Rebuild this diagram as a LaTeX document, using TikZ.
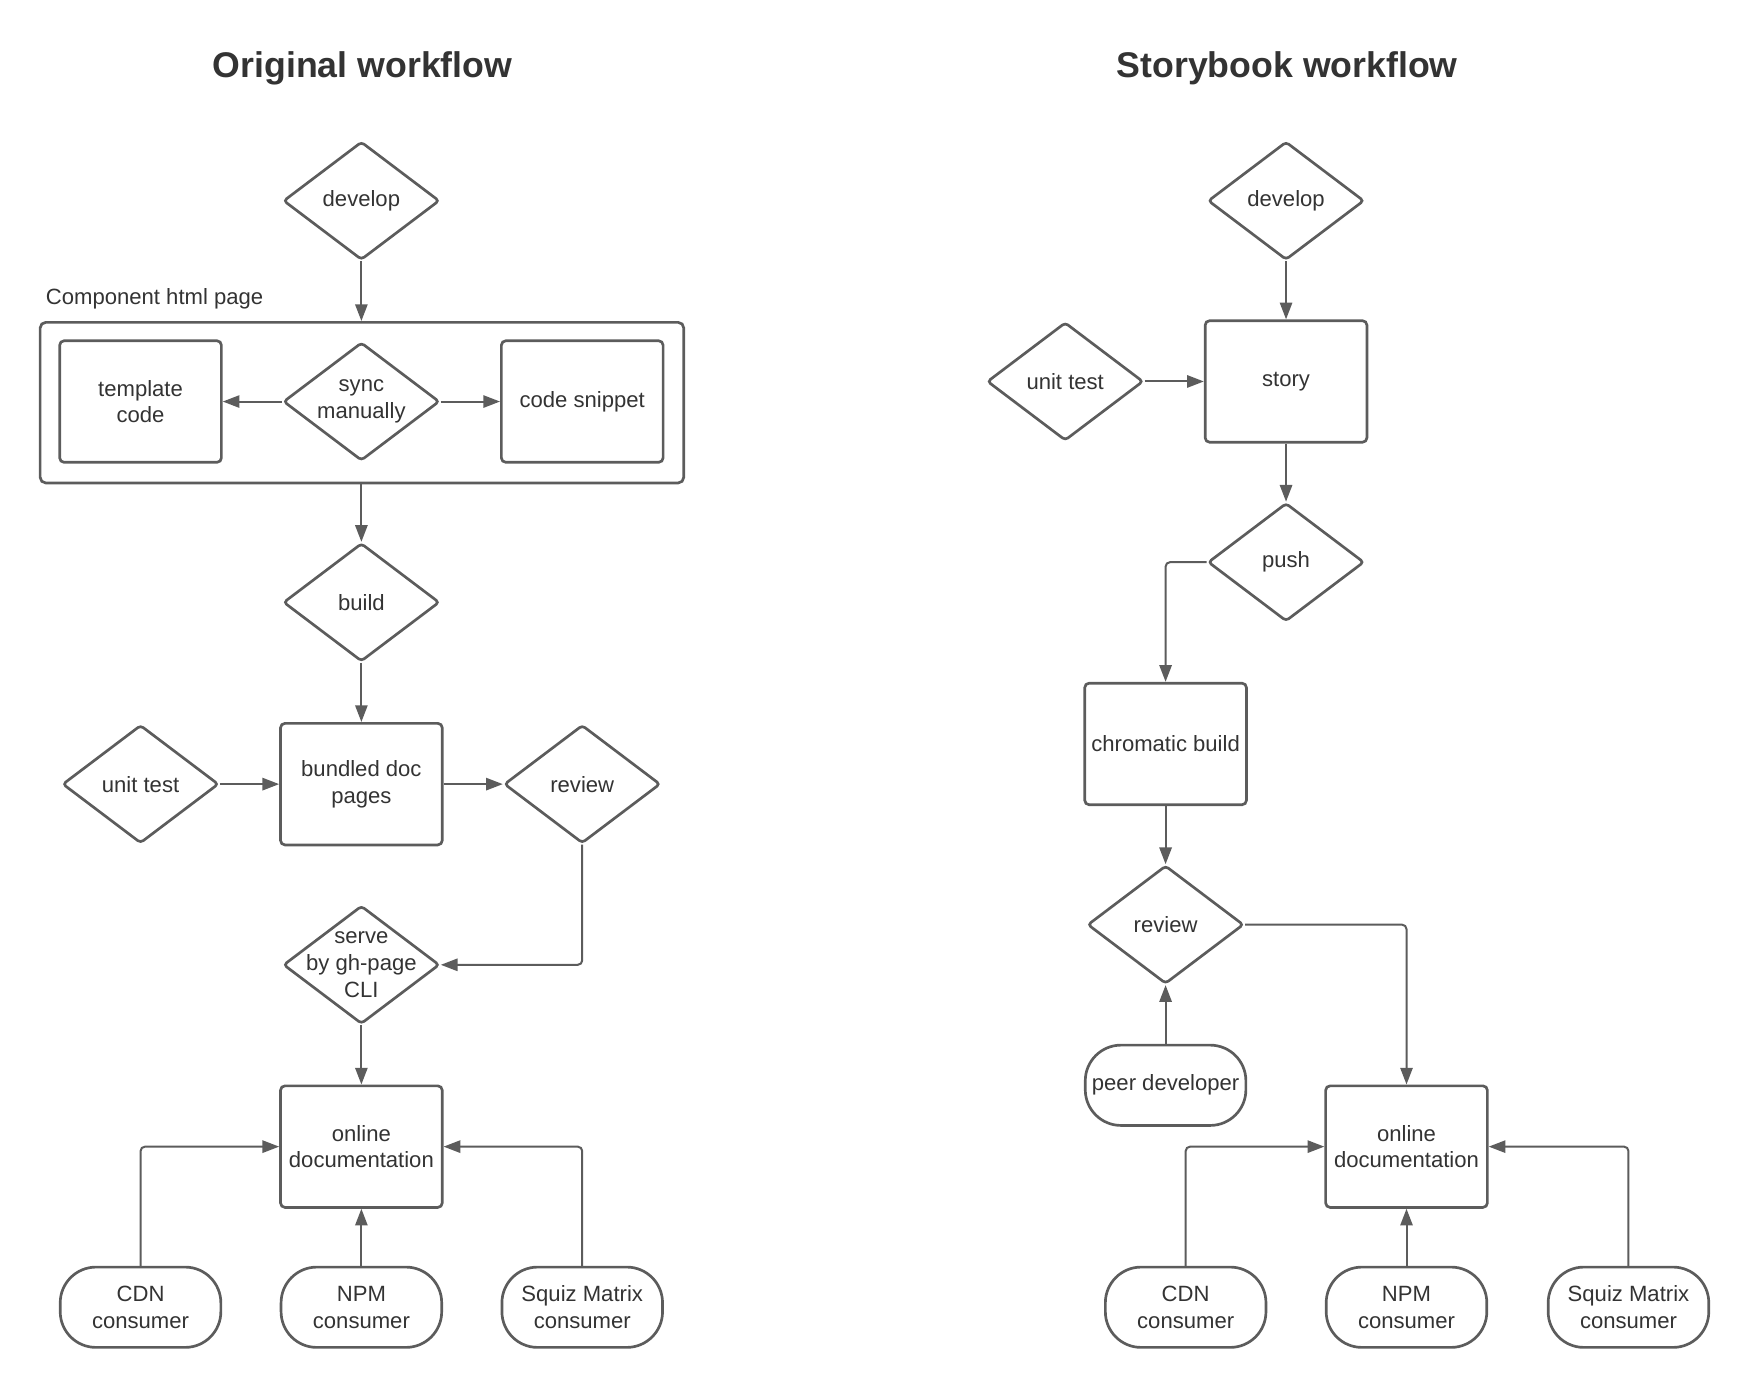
\documentclass[tikz,border=0pt]{standalone}
\usepackage{fontspec}
\setmainfont{Liberation Sans}
\usetikzlibrary{shapes.geometric,arrows.meta}
\definecolor{lc}{HTML}{5C5C5C}
\definecolor{tc}{HTML}{333333}
\tikzset{
  txt/.style={text=tc, font=\fontsize{19.8}{24}\selectfont, align=center},
  box/.style={txt, draw=lc, line width=2.4pt, rounded corners=4pt, minimum width=145pt, minimum height=109pt, inner sep=0pt},
  term/.style={box, minimum width=144pt, minimum height=72pt, rounded corners=32pt},
  dia/.style={diamond, draw=lc, line width=2.4pt, rounded corners=3pt, minimum width=140pt, minimum height=106pt, inner sep=0pt},
  dlab/.style={txt, inner sep=0pt},
  arr/.style={draw=lc, line width=1.8pt, rounded corners=4pt, -{Triangle[length=15pt,width=11pt]}},
  ttl/.style={text=tc, font=\fontsize{32}{38}\selectfont\bfseries}
}
\begin{document}
\begin{tikzpicture}[x=1pt,y=-1pt]
\useasboundingbox (0,0) rectangle (1560,1237.2);
% ---------------- Original workflow ----------------
\node[ttl] (title1) at (325,61) {Original workflow};
\node[dia, label={[dlab]center:develop}] (dev1) at (324,180) {};
\node[draw=lc, line width=2.4pt, rounded corners=5pt, minimum width=577pt, minimum height=144pt, inner sep=0pt] (cont) at (324.5,361) {};
\node[txt, anchor=west, inner sep=0pt] (clabel) at (41,268) {Component html page};
\node[box] (tmpl) at (126,360) {template\\code};
\node[dia, label={[dlab]center:sync\\manually}] (sync) at (324,360) {};
\node[box] (snip) at (522,360) {code snippet};
\node[dia, label={[dlab]center:build}] (build) at (324,540) {};
\node[box] (bundle) at (324,703) {bundled doc\\pages};
\node[dia, label={[dlab]center:unit test}] (ut1) at (126,703) {};
\node[dia, label={[dlab]center:review}] (rev1) at (522,703) {};
\node[dia, label={[dlab]center:serve\\by gh-page\\CLI}] (serve) at (324,865) {};
\node[box] (doc1) at (324,1028) {online\\documentation};
\node[term] (cdn1) at (126,1172) {CDN\\consumer};
\node[term] (npm1) at (324,1172) {NPM\\consumer};
\node[term] (sq1) at (522,1172) {Squiz Matrix\\consumer};

\draw[arr] (dev1.south) -- (dev1.south |- cont.north);
\draw[arr] (sync.west) -- (tmpl.east);
\draw[arr] (sync.east) -- (snip.west);
\draw[arr] (build.north |- cont.south) -- (build.north);
\draw[arr] (build.south) -- (bundle.north);
\draw[arr] (ut1.east) -- (bundle.west);
\draw[arr] (bundle.east) -- (rev1.west);
\draw[arr] (rev1.south) |- (serve.east);
\draw[arr] (serve.south) -- (doc1.north);
\draw[arr] (cdn1.north) |- (doc1.west);
\draw[arr] (npm1.north) -- (doc1.south);
\draw[arr] (sq1.north) |- (doc1.east);

% ---------------- Storybook workflow ----------------
\node[ttl] (title2) at (1154,61) {Storybook workflow};
\node[dia, label={[dlab]center:develop}] (dev2) at (1153,180) {};
\node[box] (story) at (1153,342) {story};
\node[dia, label={[dlab]center:unit test}] (ut2) at (955,342) {};
\node[dia, label={[dlab]center:push}] (push) at (1153,504) {};
\node[box] (chrom) at (1045,667) {chromatic build};
\node[dia, label={[dlab]center:review}] (rev2) at (1045,829) {};
\node[term] (peer) at (1045,973) {peer developer};
\node[box] (doc2) at (1261,1028) {online\\documentation};
\node[term] (cdn2) at (1063,1172) {CDN\\consumer};
\node[term] (npm2) at (1261,1172) {NPM\\consumer};
\node[term] (sq2) at (1460,1172) {Squiz Matrix\\consumer};

\draw[arr] (dev2.south) -- (story.north);
\draw[arr] (ut2.east) -- (story.west);
\draw[arr] (story.south) -- (push.north);
\draw[arr] (push.west) -| (chrom.north);
\draw[arr] (chrom.south) -- (rev2.north);
\draw[arr] (rev2.east) -| (doc2.north);
\draw[arr] (peer.north) -- (rev2.south);
\draw[arr] (cdn2.north) |- (doc2.west);
\draw[arr] (npm2.north) -- (doc2.south);
\draw[arr] (sq2.north) |- (doc2.east);
\end{tikzpicture}
\end{document}
